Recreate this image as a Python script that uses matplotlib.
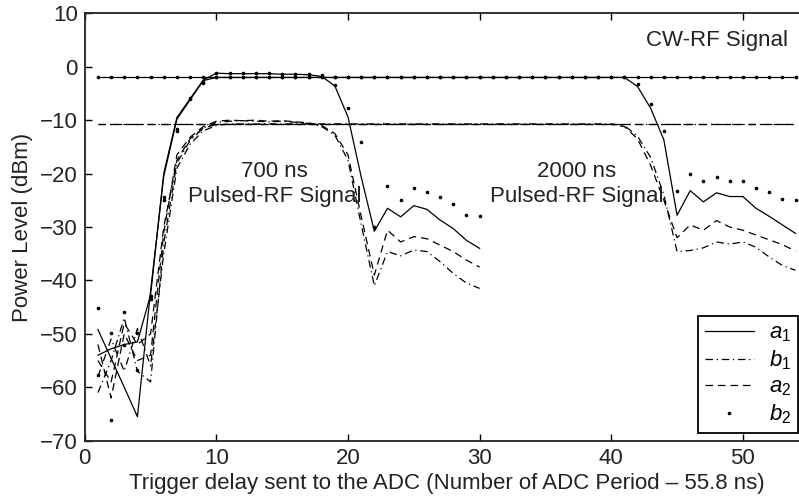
import matplotlib
matplotlib.use("Agg")
import matplotlib.pyplot as plt

# trigger delay index (ADC periods)
delay_cw = list(range(1, 55))
delay_700 = list(range(1, 31))
delay_2000 = list(range(1, 55))

# CW-RF signal (dBm)
cw_a1 = [-2.0] * 54
cw_b1 = [-10.7] * 54
cw_a2 = [-10.8] * 54
cw_b2 = [-2.0] * 54

# 700 ns pulsed-RF signal (dBm)
p700_a1 = [-54.0, -52.8, -52.0, -51.5, -42.7, -20.0, -9.5, -6.0, -2.5, -1.2,
           -1.3, -1.3, -1.3, -1.3, -1.4, -1.4, -1.5, -1.8, -3.6, -9.4,
           -20.6, -30.8, -26.5, -28.1, -26.0, -26.7, -28.7, -30.3, -32.5, -34.0]
p700_b1 = [-61.0, -55.0, -47.0, -57.0, -59.0, -33.0, -18.0, -13.8, -11.5, -10.4,
           -10.2, -10.1, -10.2, -10.3, -10.2, -10.4, -10.6, -11.2, -12.8, -17.5,
           -29.5, -41.0, -34.6, -35.4, -34.3, -34.6, -36.5, -38.7, -40.5, -41.5]
p700_a2 = [-52.0, -62.0, -50.0, -55.0, -54.0, -31.0, -16.5, -13.2, -11.2, -10.2,
           -10.0, -10.1, -10.0, -10.2, -10.1, -10.3, -10.5, -11.0, -12.5, -16.5,
           -28.0, -39.0, -30.6, -32.8, -31.8, -32.2, -33.4, -34.6, -36.2, -37.5]
p700_b2 = [-45.2, -49.9, -46.0, -49.8, -43.0, -24.3, -11.7, -5.9, -2.8, -1.2,
           -1.2, -1.2, -1.2, -1.2, -1.3, -1.3, -1.4, -1.6, -3.4, -7.8,
           -14.0, -30.0, -22.4, -24.9, -22.7, -23.5, -24.3, -25.7, -27.8, -28.0]

# 2000 ns pulsed-RF signal (dBm)
p2000_a1 = [-49.2, -54.6, -60.0, -65.5, -42.0, -20.5, -9.8, -6.2, -2.6, -2.0,
            -2.0, -2.0, -2.0, -2.0, -2.0, -2.0, -2.0, -2.0, -2.0, -2.0,
            -2.0, -2.0, -2.0, -2.0, -2.0, -2.0, -2.0, -2.0, -2.0, -2.0,
            -2.0, -2.0, -2.0, -2.0, -2.0, -2.0, -2.0, -2.0, -2.0, -2.0,
            -2.0, -3.7, -7.8, -13.7, -27.8, -23.2, -25.3, -23.6, -24.3, -24.3,
            -26.5, -28.0, -29.6, -31.2]
p2000_b1 = [-58.0, -51.0, -57.0, -49.0, -56.0, -35.0, -19.0, -14.5, -12.0, -11.0,
            -10.7, -10.7, -10.7, -10.7, -10.7, -10.7, -10.7, -10.7, -10.7, -10.7,
            -10.7, -10.7, -10.7, -10.7, -10.7, -10.7, -10.7, -10.7, -10.7, -10.7,
            -10.7, -10.7, -10.7, -10.7, -10.7, -10.7, -10.7, -10.7, -10.7, -10.7,
            -11.0, -13.0, -17.0, -24.0, -34.6, -34.4, -33.9, -32.8, -33.2, -32.8,
            -33.8, -35.6, -37.2, -38.1]
p2000_a2 = [-55.0, -59.0, -48.0, -52.0, -50.0, -30.0, -17.5, -13.5, -11.5, -10.8,
            -10.8, -10.8, -10.8, -10.8, -10.8, -10.8, -10.8, -10.8, -10.8, -10.8,
            -10.8, -10.8, -10.8, -10.8, -10.8, -10.8, -10.8, -10.8, -10.8, -10.8,
            -10.8, -10.8, -10.8, -10.8, -10.8, -10.8, -10.8, -10.8, -10.8, -10.8,
            -11.2, -13.5, -18.5, -25.0, -32.0, -29.6, -30.6, -28.8, -30.0, -30.6,
            -31.5, -32.4, -33.3, -34.5]
p2000_b2 = [-57.7, -66.2, -52.0, -56.8, -43.5, -25.0, -12.0, -6.0, -3.0, -2.0,
            -2.0, -2.0, -2.0, -2.0, -2.0, -2.0, -2.0, -2.0, -2.0, -2.0,
            -2.0, -2.0, -2.0, -2.0, -2.0, -2.0, -2.0, -2.0, -2.0, -2.0,
            -2.0, -2.0, -2.0, -2.0, -2.0, -2.0, -2.0, -2.0, -2.0, -2.0,
            -2.0, -3.2, -6.9, -12.0, -23.3, -20.0, -21.4, -20.6, -21.4, -21.4,
            -22.7, -23.4, -24.8, -24.9]

x_ticks = [0, 10, 20, 30, 40, 50]
y_ticks = [-70, -60, -50, -40, -30, -20, -10, 0, 10]

plt.rcParams['font.family'] = ['Liberation Sans', 'DejaVu Sans']
plt.rcParams['mathtext.fontset'] = 'custom'
plt.rcParams['mathtext.rm'] = 'Liberation Sans'
plt.rcParams['mathtext.it'] = 'Liberation Sans:italic'
fs = 16
txt = '#222222'

fig = plt.figure(figsize=(7.99, 5.01), dpi=100)
ax = fig.add_axes([0.1061, 0.1204, 0.906, 0.853])

lw = 0.9
dash = (6, 4)
dashdot = (6, 3, 1, 3)
ms = 1.6

# one style per wave quantity, same for every signal
for x, a1, b1, a2, b2 in [(delay_cw, cw_a1, cw_b1, cw_a2, cw_b2),
                          (delay_700, p700_a1, p700_b1, p700_a2, p700_b2),
                          (delay_2000, p2000_a1, p2000_b1, p2000_a2, p2000_b2)]:
    ax.plot(x, a1, color='black', lw=lw, ls='-')
    ax.plot(x, b1, color='black', lw=lw, ls=(0, dashdot))
    ax.plot(x, a2, color='black', lw=lw, ls=(0, dash))
    ax.plot(x, b2, color='black', ls='none', marker='o', ms=ms)

h_a1, = ax.plot([], [], color='black', lw=lw, ls='-')
h_b1, = ax.plot([], [], color='black', lw=lw, ls=(0, dashdot))
h_a2, = ax.plot([], [], color='black', lw=lw, ls=(0, dash))
h_b2, = ax.plot([], [], color='black', ls='none', marker='o', ms=ms)

ax.text(48, 5, 'CW-RF Signal', fontsize=fs, ha='center', va='center', color=txt)
ax.text(14.4, -19.7, '700 ns', fontsize=fs, ha='center', va='center', color=txt)
ax.text(14.4, -24.2, 'Pulsed-RF Signal', fontsize=fs, ha='center', va='center', color=txt)
ax.text(37.4, -19.7, '2000 ns', fontsize=fs, ha='center', va='center', color=txt)
ax.text(37.4, -24.2, 'Pulsed-RF Signal', fontsize=fs, ha='center', va='center', color=txt)

ax.set_xlim(0, 55)
ax.set_ylim(-70, 10)
ax.set_xticks(x_ticks)
ax.set_yticks(y_ticks)
ax.tick_params(direction='in', top=True, right=True, length=5, width=1,
               labelsize=fs, pad=5, labelcolor=txt)
for s in ax.spines.values():
    s.set_linewidth(1.3)
    s.set_color('#222222')

ax.set_xlabel('Trigger delay sent to the ADC (Number of ADC Period \u2013 55.8 ns)',
              fontsize=fs, labelpad=3, color=txt)
ax.set_ylabel('Power Level (dBm)', fontsize=fs, labelpad=5, color=txt)

leg = fig.legend([h_a1, h_b1, h_a2, h_b2],
                 ['$a_1$', '$b_1$', '$a_2$', '$b_2$'],
                 loc='lower right', bbox_to_anchor=(0.999, 0.1357),
                 fontsize=fs, handlelength=2.2, labelspacing=0.2,
                 borderpad=0.3, handletextpad=0.7, fancybox=False,
                 framealpha=1, edgecolor='black', borderaxespad=0)
leg.get_frame().set_linewidth(1.3)

fig.savefig('out.png', dpi=100)
